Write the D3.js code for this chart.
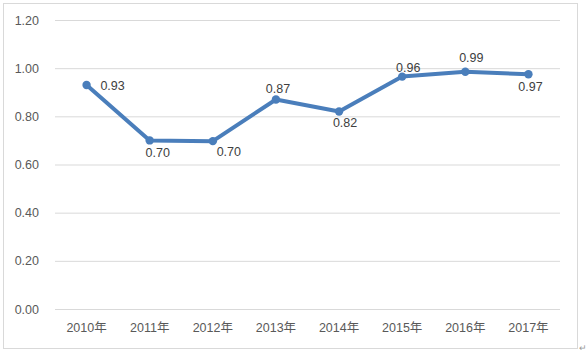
<!DOCTYPE html>
<html><head><meta charset="utf-8">
<script src="https://cdn.jsdelivr.net/npm/d3@7"></script>
<style>body{margin:0;background:#fff}svg{display:block}</style>
</head><body><svg id="c" width="586" height="354"></svg>
<script>
const categories = ["2010年","2011年","2012年","2013年","2014年","2015年","2016年","2017年"];
const values = [0.93, 0.70, 0.697, 0.87, 0.82, 0.965, 0.985, 0.975];
const labels = ["0.93","0.70","0.70","0.87","0.82","0.96","0.99","0.97"];
const yTicks = [0, 0.2, 0.4, 0.6, 0.8, 1.0, 1.2];
// label placement relative to point: [dx, dy]
const labelPos = [[26,1],[8,12],[16,10],[2,-11],[6,11],[6,-9],[6,-14],[2,12]];

const svg = d3.select("#c");
const font = "'Liberation Sans','Noto Sans CJK SC',sans-serif";
svg.append("rect").attr("x",3.5).attr("y",3.5).attr("width",574).attr("height",345)
  .attr("fill","#fff").attr("stroke","#d9d9d9");

const x = d3.scaleBand().domain(categories).range([55,560]);
const y = d3.scaleLinear().domain([0,1.2]).range([309,20]);

const gy = svg.append("g").attr("transform","translate(55,0)")
  .call(d3.axisLeft(y).tickValues(yTicks).tickFormat(d3.format(".2f")).tickSize(-505).tickPadding(16));
gy.select(".domain").remove();
gy.selectAll("line").attr("stroke","#d9d9d9");
gy.selectAll("text").attr("fill","#595959").style("font-family",font).style("font-size","12.5px");

const gx = svg.append("g").attr("transform","translate(0,309)")
  .call(d3.axisBottom(x).tickSize(0).tickPadding(14));
gx.select(".domain").remove();
gx.selectAll("text").attr("fill","#595959").style("font-family",font).style("font-size","12.5px");

const line = d3.line().x((d,i)=>x(categories[i])+x.bandwidth()/2).y(d=>y(d));
svg.append("path").datum(values).attr("d",line).attr("fill","none")
  .attr("stroke","#4a7ebb").attr("stroke-width",4).attr("stroke-linejoin","round");
svg.selectAll("circle.pt").data(values).enter().append("circle")
  .attr("cx",(d,i)=>x(categories[i])+x.bandwidth()/2).attr("cy",d=>y(d)).attr("r",4.2)
  .attr("fill","#4a7ebb");
svg.selectAll("text.lab").data(values).enter().append("text")
  .attr("x",(d,i)=>x(categories[i])+x.bandwidth()/2+labelPos[i][0])
  .attr("y",(d,i)=>y(d)+labelPos[i][1])
  .attr("dy","0.35em").attr("text-anchor","middle")
  .attr("fill","#404040").style("font-family",font).style("font-size","12.5px")
  .text((d,i)=>labels[i]);
svg.append("text").attr("x",579).attr("y",351).attr("fill","#999").style("font-size","9px").text("↵");
</script></body></html>
